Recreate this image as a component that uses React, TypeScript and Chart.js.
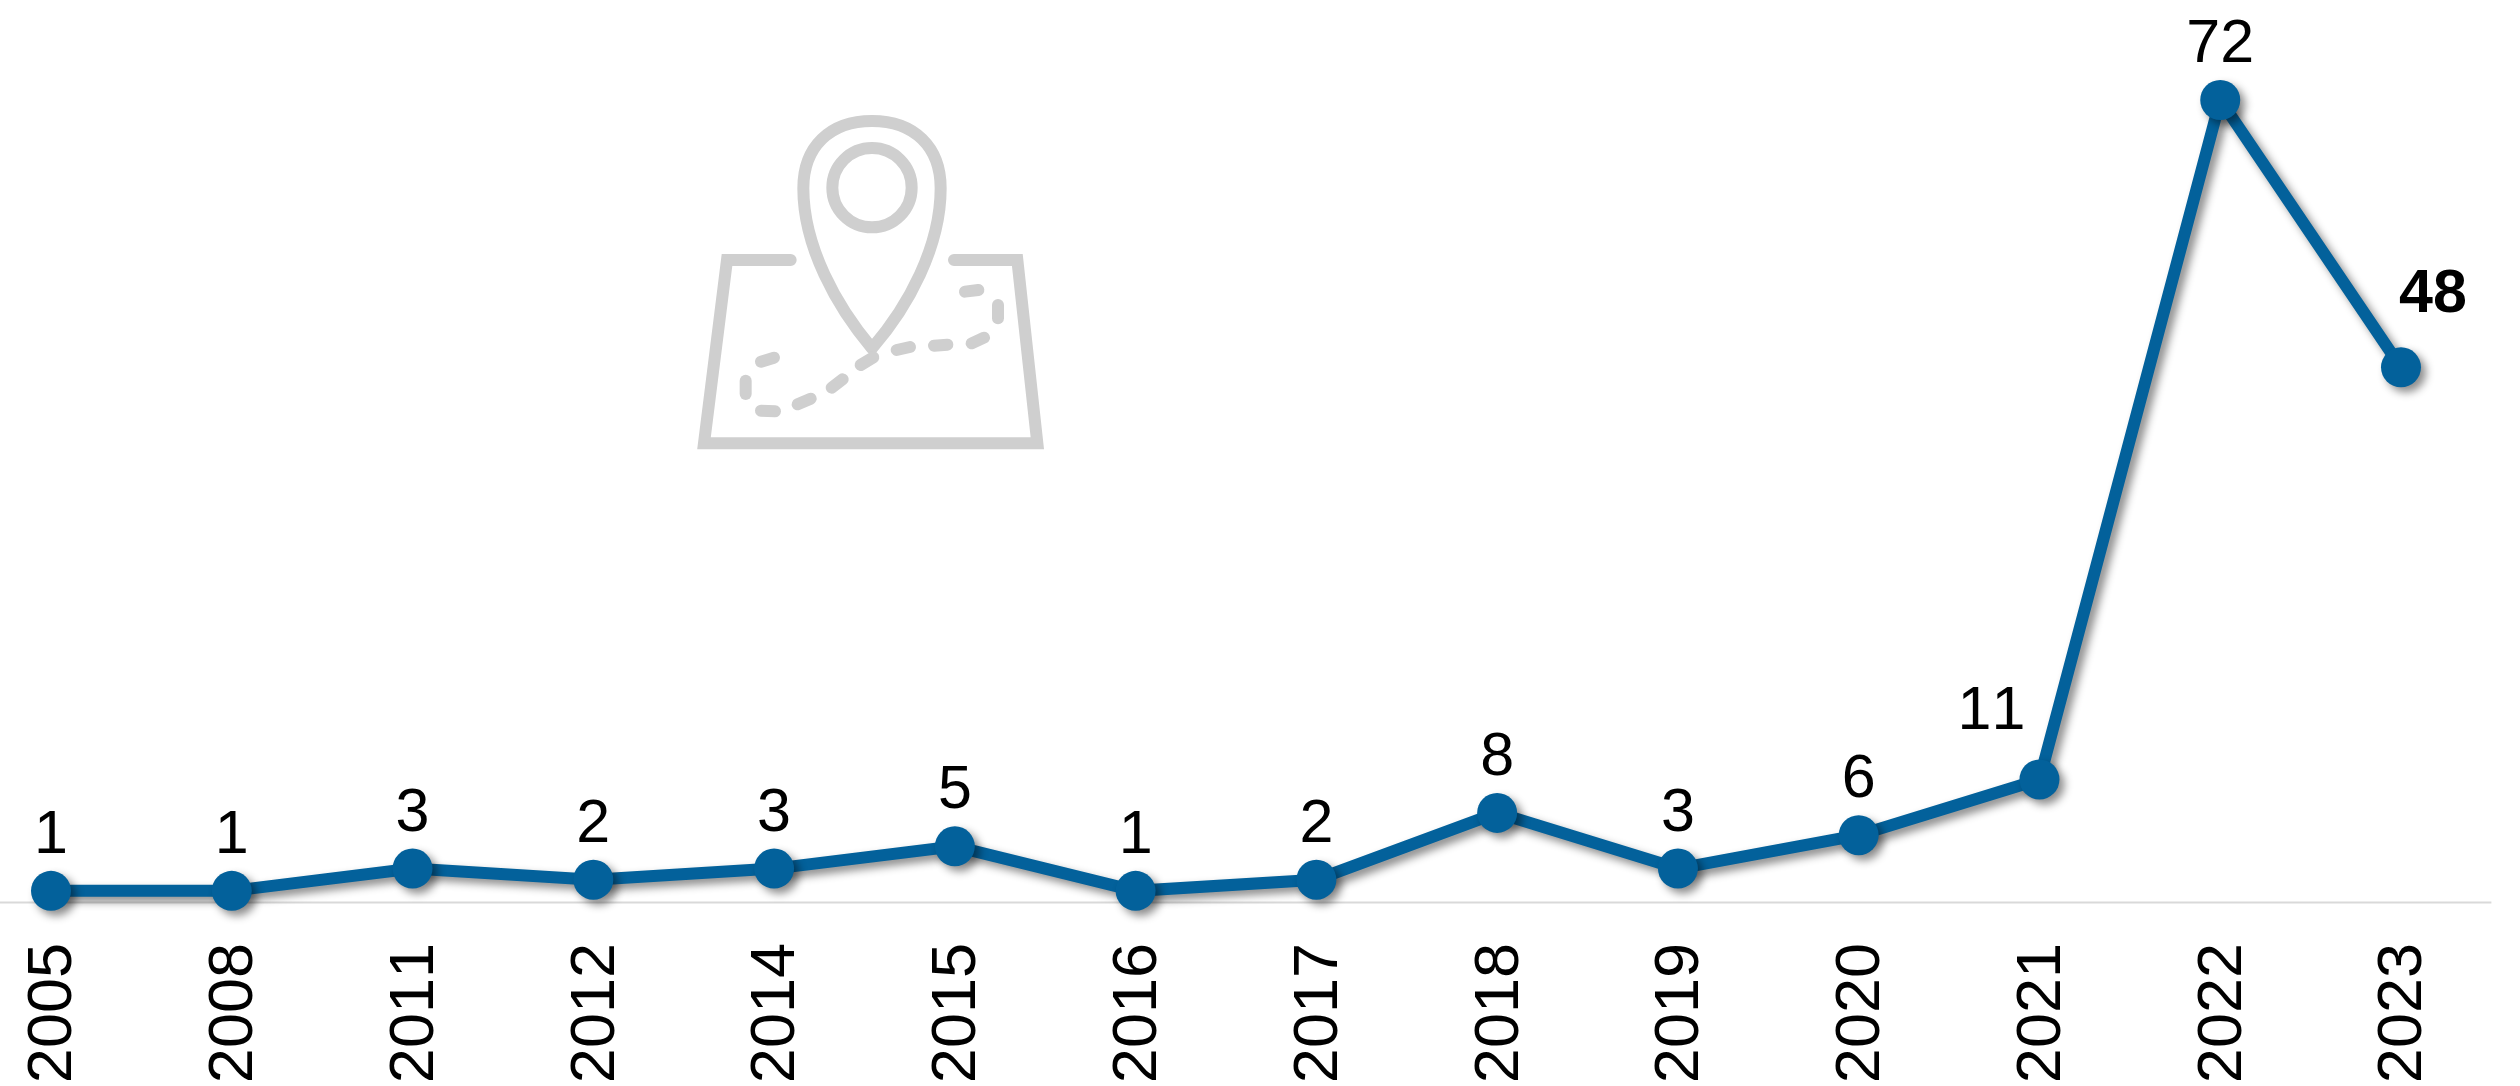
import React, { useEffect, useRef } from "react";
import { Chart, registerables } from "chart.js";

Chart.register(...registerables);

const years = ["2005", "2008", "2011", "2012", "2014", "2015", "2016", "2017", "2018", "2019", "2020", "2021", "2022", "2023"];
const counts = [1, 1, 3, 2, 3, 5, 1, 2, 8, 3, 6, 11, 72, 48];
const labelShiftX = [0, 0, 0, 0, 0, 0, 0, 0, 0, 0, 0, -48, 0, 32];
const labelLift = [38, 38, 38, 38, 38, 38, 38, 38, 38, 38, 38, 50, 38, 55];
const BLUE = "#03619b";
const FONT = '"Liberation Sans", Arial, sans-serif';

const noKerningPlugin = {
  id: "noKerning",
  beforeDraw(chart: any) {
    chart.ctx.fontKerning = "none";
  },
};

const shadowPlugin = {
  id: "lineShadow",
  beforeDatasetDraw(chart: any) {
    const c = chart.ctx;
    c.save();
    c.shadowColor = "rgba(0,0,0,0.45)";
    c.shadowBlur = 9;
    c.shadowOffsetX = 5;
    c.shadowOffsetY = 5;
  },
  afterDatasetDraw(chart: any) {
    chart.ctx.restore();
  },
};

const baselinePlugin = {
  id: "baseline",
  beforeDatasetsDraw(chart: any) {
    const c = chart.ctx;
    const x = chart.scales.x;
    const half = (x.getPixelForValue(1) - x.getPixelForValue(0)) / 2;
    const y = Math.round(chart.scales.y.getPixelForValue(0)) + 0.5;
    c.save();
    c.strokeStyle = "#d9d9d9";
    c.lineWidth = 2;
    c.beginPath();
    c.moveTo(0, y);
    c.lineTo(x.getPixelForValue(years.length - 1) + half, y);
    c.stroke();
    c.restore();
  },
};

const valueLabelPlugin = {
  id: "valueLabels",
  afterDatasetsDraw(chart: any) {
    const c = chart.ctx;
    const pts = chart.getDatasetMeta(0).data;
    c.save();
    c.fillStyle = "#000";
    c.textAlign = "center";
    c.textBaseline = "alphabetic";
    counts.forEach((v, i) => {
      c.font = `${i === counts.length - 1 ? "bold " : ""}61px ${FONT}`;
      c.fillText(String(v), pts[i].x + labelShiftX[i], pts[i].y - labelLift[i]);
    });
    c.restore();
  },
};

const dashes = [
  "M915 605L955 600", "M1014 645L1014 685", "M935 760L972 743", "M822 767L862 764",
  "M710 780L750 771", "M602 825L640 802", "M515 893L548 868", "M413 943L452 926",
  "M303 962L345 964", "M257 872L257 912", "M303 815L342 803",
];

function MapIcon() {
  return (
    <svg
      width={420}
      height={380}
      viewBox="0 0 1260 1140"
      style={{ position: "absolute", left: 660, top: 90, pointerEvents: "none" }}
      fill="none"
      stroke="#cfcfcf"
      strokeWidth={36}
      strokeLinecap="round"
      strokeLinejoin="miter"
    >
      <path d="M636 775C530 650 430 470 430 295C430 170 510 93 636 93C762 93 842 170 842 295C842 470 745 650 636 775" />
      <circle cx={636} cy={293} r={119} />
      <path d="M392 510H201L132 1060H1132L1072 510H882" />
      {dashes.map((d) => (
        <path key={d} d={d} />
      ))}
    </svg>
  );
}

export default function App() {
  const ref = useRef<HTMLCanvasElement>(null);
  useEffect(() => {
    document.body.style.margin = "0";
    document.body.style.background = "#fff";
    const chart = new Chart(ref.current!, {
      type: "line",
      data: {
        labels: years,
        datasets: [
          {
            data: counts,
            borderColor: BLUE,
            backgroundColor: BLUE,
            borderWidth: 12,
            pointRadius: 20,
            pointBackgroundColor: BLUE,
            pointBorderColor: BLUE,
            pointBorderWidth: 0,
            tension: 0,
            clip: false,
            borderCapStyle: "butt",
          },
        ],
      },
      options: {
        responsive: false,
        animation: false,
        events: [],
        layout: { padding: { left: 51, right: 119, top: 100, bottom: 0 } },
        plugins: { legend: { display: false }, tooltip: { enabled: false }, title: { display: false } },
        scales: {
          x: {
            type: "category",
            offset: false,
            grid: { display: false },
            border: { display: false },
            afterFit(scale: any) {
              scale.height = 184;
            },
            ticks: {
              autoSkip: false,
              minRotation: 90,
              maxRotation: 90,
              padding: 33,
              labelOffset: 3,
              color: "#000",
              font: { family: FONT, size: 63 },
            },
          },
          y: { display: false, min: 0, max: 72 },
        },
      },
      plugins: [noKerningPlugin, baselinePlugin, shadowPlugin, valueLabelPlugin],
    } as any);
    return () => chart.destroy();
  }, []);
  return (
    <div style={{ position: "relative", width: 2520, height: 1086, overflow: "hidden" }}>
      <canvas ref={ref} width={2520} height={1086} style={{ display: "block" }} />
      <MapIcon />
    </div>
  );
}
